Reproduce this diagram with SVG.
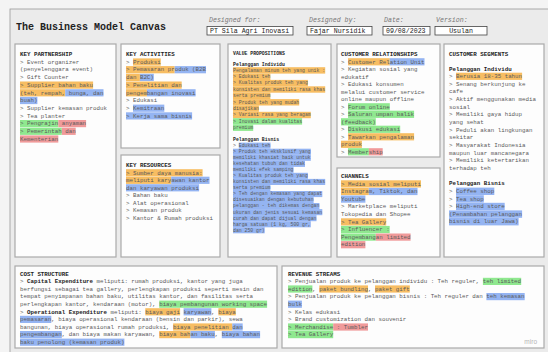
<svg xmlns="http://www.w3.org/2000/svg" width="548" height="352" viewBox="0 0 548 352">
<style>
.t{font-family:"Liberation Mono","DejaVu Sans Mono",monospace;font-size:5.8px;fill:#5a5a5a}
.v{font-size:4.8px}
.b{font-weight:bold;fill:#222}
.box{fill:#fdfdfd;stroke:#aaaaaa;stroke-width:1.2}
.hb{fill:#fff;stroke:#444;stroke-width:0.8}
.lab{font-family:"Liberation Mono",monospace;font-size:6.6px;font-style:italic;fill:#777}
.val{font-family:"Liberation Mono",monospace;font-size:6.6px;fill:#222}
.o{fill:#f7bd62}.bl{fill:#94b4f2}.g{fill:#8fe88f}.r{fill:#f09a9a}
</style>
<rect x="0" y="0" width="548" height="352" fill="#f4f4f4"/>
<rect x="10" y="9" width="545" height="350" fill="#ebebeb" stroke="#9a9a9a" stroke-width="0.8"/>

<g id="header">
<text x="16" y="30" style="font-family:'Liberation Mono',monospace;font-size:10px;font-weight:bold;fill:#222">The Business Model Canvas</text>
<text class="lab" x="209" y="22">Designed for:</text>
<rect class="hb" x="207" y="26.5" width="86" height="8.5"/>
<text class="val" x="210" y="33.2">PT Sila Agri Inovasi</text>
<text class="lab" x="309" y="22">Designed by:</text>
<rect class="hb" x="307" y="26.5" width="65" height="8.5"/>
<text class="val" x="310" y="33.2">Fajar Nursidik</text>
<text class="lab" x="384" y="22">Date:</text>
<rect class="hb" x="383" y="26.5" width="47" height="8.5"/>
<text class="val" x="386" y="33.2">09/08/2023</text>
<text class="lab" x="436" y="22">Version:</text>
<rect class="hb" x="435" y="26.5" width="52" height="8.5"/>
<text class="val" x="461" y="33.2" text-anchor="middle">Usulan</text>
</g>

<g id="key-partnership">
<rect class="box" x="15" y="44" width="101" height="213"/>
<rect class="o" x="20" y="81.5" width="73.1" height="7.2"/>
<rect class="o" x="20" y="89.2" width="45.2" height="7.2"/><rect class="bl" x="65.2" y="89.2" width="38.3" height="7.2"/>
<rect class="bl" x="20" y="96.9" width="17.4" height="7.2"/>
<rect class="g" x="20" y="120" width="38.3" height="7.2"/><rect class="r" x="58.3" y="120" width="27.8" height="7.2"/>
<rect class="g" x="20" y="127.7" width="41.8" height="7.2"/><rect class="r" x="61.8" y="127.7" width="13.9" height="7.2"/>
<rect class="r" x="20" y="135.4" width="38.3" height="7.2"/>
<text class="t b" x="20" y="56">KEY PARTNERSHIP</text>
<text class="t" x="20" y="63.7">&gt; Event organizer</text>
<text class="t" x="20" y="71.4">(penyelenggara event)</text>
<text class="t" x="20" y="79.1">&gt; Gift Counter</text>
<text class="t" x="20" y="86.8">&gt; Supplier bahan baku</text>
<text class="t" x="20" y="94.5">(teh, rempah, bunga, dan</text>
<text class="t" x="20" y="102.2">buah)</text>
<text class="t" x="20" y="109.9">&gt; Supplier kemasan produk</text>
<text class="t" x="20" y="117.6">&gt; Tea planter</text>
<text class="t" x="20" y="125.3">&gt; Pengrajin anyaman</text>
<text class="t" x="20" y="133">&gt; Pemerintah dan</text>
<text class="t" x="20" y="140.7">Kementerian</text>
</g>

<g id="key-activities">
<rect class="box" x="121" y="44" width="99" height="104"/>
<rect class="o" x="133" y="58.4" width="27.8" height="7.2"/>
<rect class="o" x="126" y="66.1" width="48.7" height="7.2"/><rect class="bl" x="174.7" y="66.1" width="31.3" height="7.2"/>
<rect class="o" x="126" y="73.8" width="13.9" height="7.2"/><rect class="bl" x="139.9" y="73.8" width="13.9" height="7.2"/>
<rect class="o" x="126" y="81.5" width="55.7" height="7.2"/>
<rect class="o" x="126" y="89.2" width="20.9" height="7.2"/><rect class="bl" x="146.9" y="89.2" width="48.7" height="7.2"/>
<rect class="bl" x="133" y="104.6" width="31.3" height="7.2"/>
<rect class="bl" x="126" y="112.3" width="66.1" height="7.2"/>
<text class="t b" x="126" y="56">KEY ACTIVITIES</text>
<text class="t" x="126" y="63.7">&gt; Produksi</text>
<text class="t" x="126" y="71.4">&gt; Pemasaran produk (B2B</text>
<text class="t" x="126" y="79.1">dan B2C)</text>
<text class="t" x="126" y="86.8">&gt; Penelitian dan</text>
<text class="t" x="126" y="94.5">pengembangan inovasi</text>
<text class="t" x="126" y="102.2">&gt; Edukasi</text>
<text class="t" x="126" y="109.9">&gt; Kemitraan</text>
<text class="t" x="126" y="117.6">&gt; Kerja sama bisnis</text>
</g>

<g id="key-resources">
<rect class="box" x="121" y="155" width="99" height="102"/>
<rect class="o" x="126" y="169.2" width="76.6" height="7.2"/>
<rect class="o" x="126" y="176.7" width="45.2" height="7.2"/><rect class="bl" x="171.2" y="176.7" width="38.3" height="7.2"/>
<rect class="bl" x="126" y="184.2" width="73.1" height="7.2"/>
<text class="t b" x="126" y="167">KEY RESOURCES</text>
<text class="t" x="126" y="174.5">&gt; Sumber daya manusia:</text>
<text class="t" x="126" y="182">meliputi karyawan kantor</text>
<text class="t" x="126" y="189.5">dan karyawan produksi</text>
<text class="t" x="126" y="197">&gt; Bahan baku</text>
<text class="t" x="126" y="204.5">&gt; Alat operasional</text>
<text class="t" x="126" y="212">&gt; Kemasan produk</text>
<text class="t" x="126" y="219.5">&gt; Kantor &amp; Rumah produksi</text>
</g>

<g id="value-propositions">
<rect class="box" x="228" y="44" width="103" height="213"/>
<rect class="o" x="233" y="67.2" width="92.2" height="6.4"/>
<rect class="o" x="233" y="73.6" width="37.4" height="6.4"/>
<rect class="o" x="233" y="79.9" width="74.9" height="6.4"/>
<rect class="o" x="233" y="86.3" width="92.2" height="6.4"/>
<rect class="o" x="233" y="92.7" width="37.4" height="6.4"/>
<rect class="o" x="233" y="99.1" width="66.2" height="6.4"/>
<rect class="o" x="233" y="105.4" width="25.9" height="6.4"/>
<rect class="o" x="233" y="111.8" width="77.8" height="6.4"/>
<rect class="g" x="233" y="118.2" width="69.1" height="6.4"/>
<rect class="g" x="233" y="124.5" width="20.2" height="6.4"/>
<rect class="bl" x="238.8" y="142.6" width="31.7" height="6.1"/>
<rect class="bl" x="233" y="148.7" width="77.8" height="6.1"/>
<rect class="bl" x="233" y="154.7" width="77.8" height="6.1"/>
<rect class="bl" x="233" y="160.8" width="72" height="6.1"/>
<rect class="bl" x="233" y="166.8" width="60.5" height="6.1"/>
<rect class="bl" x="233" y="172.8" width="74.9" height="6.1"/>
<rect class="bl" x="233" y="178.9" width="92.2" height="6.1"/>
<rect class="bl" x="233" y="184.9" width="37.4" height="6.1"/>
<rect class="bl" x="233" y="191" width="89.3" height="6.1"/>
<rect class="bl" x="233" y="197" width="80.6" height="6.1"/>
<rect class="bl" x="233" y="203" width="86.4" height="6.1"/>
<rect class="bl" x="233" y="209.1" width="89.3" height="6.1"/>
<rect class="bl" x="233" y="215.1" width="83.5" height="6.1"/>
<rect class="bl" x="233" y="221.2" width="77.8" height="6.1"/>
<rect class="bl" x="233" y="227.2" width="31.7" height="6.1"/>
<text class="t v b" x="233" y="55">VALUE PROPOSITIONS</text>
<text class="t v b" x="233" y="66">Pelanggan Individu</text>
<text class="t v" x="233" y="71.7">Pengalaman minum teh yang unik :</text>
<text class="t v" x="233" y="78.1">&gt; Edukasi teh</text>
<text class="t v" x="233" y="84.4">&gt; Kualitas produk teh yang</text>
<text class="t v" x="233" y="90.8">konsisten dan memiliki rasa khas</text>
<text class="t v" x="233" y="97.2">serta premium</text>
<text class="t v" x="233" y="103.6">&gt; Produk teh yang mudah</text>
<text class="t v" x="233" y="109.9">disajikan</text>
<text class="t v" x="233" y="116.3">&gt; Variasi rasa yang beragam</text>
<text class="t v" x="233" y="122.7">&gt; Inovasi dalam kualitas</text>
<text class="t v" x="233" y="129">premium</text>
<text class="t v b" x="233" y="141">Pelanggan Bisnis</text>
<text class="t v" x="233" y="147">&gt; Edukasi teh</text>
<text class="t v" x="233" y="153.1">&gt; Produk teh eksklusif yang</text>
<text class="t v" x="233" y="159.1">memiliki khasiat baik untuk</text>
<text class="t v" x="233" y="165.2">kesehatan tubuh dan tidak</text>
<text class="t v" x="233" y="171.2">memiliki efek samping</text>
<text class="t v" x="233" y="177.2">&gt; Kualitas produk teh yang</text>
<text class="t v" x="233" y="183.3">konsisten dan memiliki rasa khas</text>
<text class="t v" x="233" y="189.3">serta premium</text>
<text class="t v" x="233" y="195.4">&gt; Teh dengan kemasan yang dapat</text>
<text class="t v" x="233" y="201.4">disesuaikan dengan kebutuhan</text>
<text class="t v" x="233" y="207.4">pelanggan - teh dikemas dengan</text>
<text class="t v" x="233" y="213.5">ukuran dan jenis sesuai kemasan</text>
<text class="t v" x="233" y="219.5">curah dan dapat dijual dengan</text>
<text class="t v" x="233" y="225.6">harga satuan (1 kg, 500 gr,</text>
<text class="t v" x="233" y="231.6">dan 250 gr)</text>
</g>

<g id="customer-relationships">
<rect class="box" x="337" y="44" width="103" height="113"/>
<rect class="o" x="348" y="58.2" width="41.8" height="7.2"/><rect class="bl" x="389.7" y="58.2" width="34.8" height="7.2"/>
<rect class="g" x="348" y="103.2" width="41.8" height="7.2"/>
<rect class="g" x="348" y="110.7" width="66.1" height="7.2"/>
<rect class="g" x="341" y="118.2" width="34.8" height="7.2"/>
<rect class="g" x="348" y="125.7" width="52.2" height="7.2"/>
<rect class="o" x="348" y="133.2" width="66.1" height="7.2"/>
<rect class="o" x="341" y="140.7" width="20.9" height="7.2"/>
<rect class="g" x="348" y="148.2" width="20.9" height="7.2"/><rect class="r" x="368.8" y="148.2" width="13.9" height="7.2"/>
<text class="t b" x="341" y="56">CUSTOMER RELATIONSHIPS</text>
<text class="t" x="341" y="63.5">&gt; Customer Relation Unit</text>
<text class="t" x="341" y="71">&gt; Kegiatan sosial yang</text>
<text class="t" x="341" y="78.5">edukatif</text>
<text class="t" x="341" y="86">&gt; Edukasi konsumen</text>
<text class="t" x="341" y="93.5">melalui customer service</text>
<text class="t" x="341" y="101">online maupun offline</text>
<text class="t" x="341" y="108.5">&gt; Forum online</text>
<text class="t" x="341" y="116">&gt; Saluran umpan balik</text>
<text class="t" x="341" y="123.5">(feedback)</text>
<text class="t" x="341" y="131">&gt; Diskusi edukasi</text>
<text class="t" x="341" y="138.5">&gt; Tawarkan pengalaman</text>
<text class="t" x="341" y="146">produk</text>
<text class="t" x="341" y="153.5">&gt; Membership</text>
</g>

<g id="channels">
<rect class="box" x="337" y="168" width="103" height="89"/>
<rect class="o" x="341" y="180.3" width="80" height="7.2"/>
<rect class="o" x="341" y="187.9" width="27.8" height="7.2"/><rect class="bl" x="368.8" y="187.9" width="48.7" height="7.2"/>
<rect class="bl" x="341" y="195.5" width="24.4" height="7.2"/>
<rect class="o" x="341" y="218.3" width="45.2" height="7.2"/>
<rect class="g" x="341" y="225.9" width="48.7" height="7.2"/>
<rect class="g" x="341" y="233.5" width="34.8" height="7.2"/><rect class="r" x="375.8" y="233.5" width="34.8" height="7.2"/>
<rect class="r" x="341" y="241.1" width="24.4" height="7.2"/>
<text class="t b" x="341" y="178">CHANNELS</text>
<text class="t" x="341" y="185.6">&gt; Media sosial meliputi</text>
<text class="t" x="341" y="193.2">Instagram, Tiktok, dan</text>
<text class="t" x="341" y="200.8">Youtube</text>
<text class="t" x="341" y="208.4">&gt; Marketplace meliputi</text>
<text class="t" x="341" y="216">Tokopedia dan Shopee</text>
<text class="t" x="341" y="223.6">&gt; Tea Gallery</text>
<text class="t" x="341" y="231.2">&gt; Influencer :</text>
<text class="t" x="341" y="238.8">Pengembangan limited</text>
<text class="t" x="341" y="246.4">edition</text>
</g>

<g id="customer-segments">
<rect class="box" x="444" y="44" width="100" height="213"/>
<rect class="o" x="456" y="72.7" width="66.1" height="7.2"/>
<rect class="bl" x="456" y="187.6" width="38.3" height="7.4"/>
<rect class="bl" x="456" y="195.2" width="27.8" height="7.4"/>
<rect class="bl" x="456" y="202.8" width="48.7" height="7.4"/>
<rect class="bl" x="449" y="210.4" width="73.1" height="7.4"/>
<rect class="bl" x="449" y="218" width="69.6" height="7.4"/>
<text class="t b" x="449" y="56">CUSTOMER SEGMENTS</text>
<text class="t b" x="449" y="71.3">Pelanggan Individu</text>
<text class="t" x="449" y="78">&gt; Berusia 18-35 tahun</text>
<text class="t" x="449" y="85.65">&gt; Senang berkunjung ke</text>
<text class="t" x="449" y="93.3">cafe</text>
<text class="t" x="449" y="100.95">&gt; Aktif menggunakan media</text>
<text class="t" x="449" y="108.6">sosial</text>
<text class="t" x="449" y="116.25">&gt; Memiliki gaya hidup</text>
<text class="t" x="449" y="123.9">yang sehat</text>
<text class="t" x="449" y="131.55">&gt; Peduli akan lingkungan</text>
<text class="t" x="449" y="139.2">sekitar</text>
<text class="t" x="449" y="146.85">&gt; Masyarakat Indonesia</text>
<text class="t" x="449" y="154.5">maupun luar mancanegara</text>
<text class="t" x="449" y="162.15">&gt; Memiliki ketertarikan</text>
<text class="t" x="449" y="169.8">terhadap teh</text>
<text class="t b" x="449" y="185.3">Pelanggan Bisnis</text>
<text class="t" x="449" y="192.9">&gt; Coffee shop</text>
<text class="t" x="449" y="200.5">&gt; Tea shop</text>
<text class="t" x="449" y="208.1">&gt; High-end store</text>
<text class="t" x="449" y="215.7">(Penambahan pelanggan</text>
<text class="t" x="449" y="223.3">bisnis di luar Jawa)</text>
</g>

<g id="cost-structure">
<rect class="box" x="15" y="266" width="262" height="82"/>
<rect class="g" x="159.2" y="300.6" width="107.9" height="7.2"/>
<rect class="o" x="145.3" y="308.2" width="34.8" height="7.2"/><rect class="bl" x="183.6" y="308.2" width="27.8" height="7.2"/><rect class="o" x="218.4" y="308.2" width="17.4" height="7.2"/>
<rect class="bl" x="20" y="315.8" width="31.3" height="7.2"/>
<rect class="o" x="173.1" y="323.4" width="59.2" height="7.2"/><rect class="bl" x="232.3" y="323.4" width="10.4" height="7.2"/>
<rect class="bl" x="20" y="331" width="41.8" height="7.2"/><rect class="o" x="159.2" y="331" width="31.3" height="7.2"/><rect class="bl" x="190.5" y="331" width="24.4" height="7.2"/><rect class="bl" x="221.8" y="331" width="38.3" height="7.2"/>
<rect class="bl" x="20" y="338.6" width="104.4" height="7.2"/>
<text class="t b" x="20" y="275.5">COST STRUCTURE</text>
<text class="t" x="20" y="283.1">&gt; <tspan class="b">Capital Expenditure</tspan> meliputi: rumah produksi, kantor yang juga</text>
<text class="t" x="20" y="290.7">berfungsi sebagai tea gallery, perlengkapan produksi seperti mesin dan</text>
<text class="t" x="20" y="298.3">tempat penyimpanan bahan baku, utilitas kantor, dan fasilitas serta</text>
<text class="t" x="20" y="305.9">perlengkapan kantor, kendaraan (motor), biaya pembangunan working space</text>
<text class="t" x="20" y="313.5">&gt; <tspan class="b">Operational Expenditure</tspan> meliputi: biaya gaji karyawan, biaya</text>
<text class="t" x="20" y="321.1">pemasaran, biaya operasional kendaraan (bensin dan parkir), sewa</text>
<text class="t" x="20" y="328.7">bangunan, biaya operasional rumah produksi, biaya penelitian dan</text>
<text class="t" x="20" y="336.3">pengembangan, dan biaya makan karyawan, biaya bahan baku, biaya bahan</text>
<text class="t" x="20" y="343.9">baku penolong (kemasan produk)</text>
</g>

<g id="revenue-streams">
<rect class="box" x="282" y="266" width="262" height="82"/>
<rect class="g" x="482.9" y="277.8" width="38.3" height="7.2"/>
<rect class="g" x="288" y="285.4" width="24.4" height="7.2"/><rect class="o" x="319.3" y="285.4" width="48.7" height="7.2"/><rect class="o" x="375" y="285.4" width="34.8" height="7.2"/>
<rect class="bl" x="486.4" y="293" width="38.3" height="7.2"/>
<rect class="bl" x="288" y="300.6" width="13.9" height="7.2"/>
<rect class="g" x="288" y="323.4" width="45.2" height="7.2"/><rect class="r" x="333.2" y="323.4" width="34.8" height="7.2"/>
<rect class="g" x="288" y="331" width="45.2" height="7.2"/>
<text class="t b" x="288" y="275.5">REVENUE STREAMS</text>
<text class="t" x="288" y="283.1">&gt; Penjualan produk ke pelanggan individu : Teh reguler, teh limited</text>
<text class="t" x="288" y="290.7">edition, paket bundling, paket gift</text>
<text class="t" x="288" y="298.3">&gt; Penjualan produk ke pelanggan bisnis : Teh reguler dan teh kemasan</text>
<text class="t" x="288" y="305.9">bulk</text>
<text class="t" x="288" y="313.5">&gt; Kelas edukasi</text>
<text class="t" x="288" y="321.1">&gt; Brand customization dan souvenir</text>
<text class="t" x="288" y="328.7">&gt; Merchandise : Tumbler</text>
<text class="t" x="288" y="336.3">&gt; Tea Gallery</text>
<text x="537" y="344" text-anchor="end" style="font-family:'Liberation Sans',sans-serif;font-size:6.5px;fill:#b5b5b5">miro</text>
</g>
</svg>
